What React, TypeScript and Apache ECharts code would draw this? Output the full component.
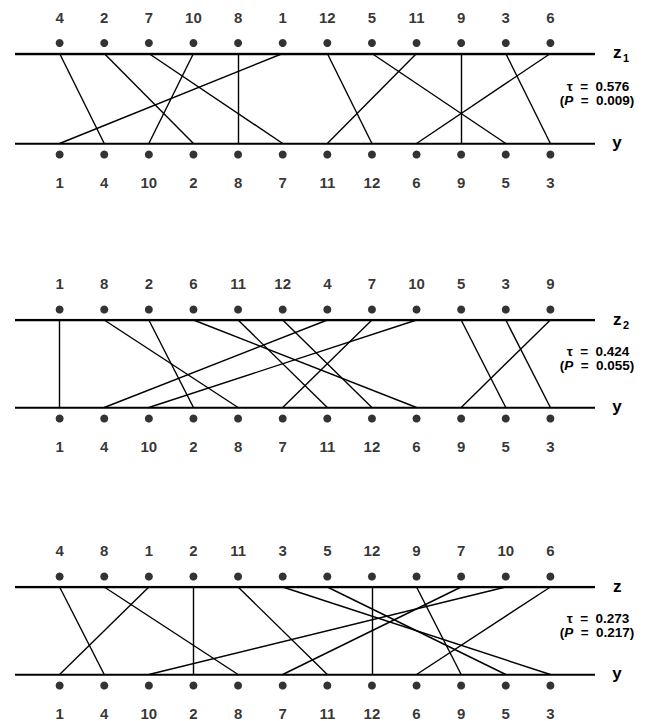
import React, { useEffect, useRef } from "react";
import * as echarts from "echarts";

// ---- Data ----
const bottomOrder = [1, 4, 10, 2, 8, 7, 11, 12, 6, 9, 5, 3];
const topOrderZ1 = [4, 2, 7, 10, 8, 1, 12, 5, 11, 9, 3, 6];
const topOrderZ2 = [1, 8, 2, 6, 11, 12, 4, 7, 10, 5, 3, 9];
const topOrderZ = [4, 8, 1, 2, 11, 3, 5, 12, 9, 7, 10, 6];
const topNames = ["z", "z", "z"];
const topSubs = ["1", "2", ""];
const bottomName = "y";
const tauValues = ["0.576", "0.424", "0.273"];
const pValues = ["0.009", "0.055", "0.217"];

// ---- Layout ----
const panelLines = [
  { top: 53.5, bottom: 143.5 },
  { top: 320, bottom: 407.5 },
  { top: 587, bottom: 674.5 },
];
const FONT = "Liberation Sans, Arial, Helvetica, sans-serif";

export default function App() {
  const ref = useRef<HTMLDivElement>(null);
  useEffect(() => {
    document.body.style.margin = "0";
    const chart = echarts.init(ref.current!, null, { renderer: "svg" });
    const tops = [topOrderZ1, topOrderZ2, topOrderZ];
    const grids: any[] = [];
    const xAxes: any[] = [];
    const yAxes: any[] = [];
    const series: any[] = [];
    const graphics: any[] = [];

    tops.forEach((topOrder, i) => {
      const L = panelLines[i];
      grids.push({ left: 15, right: 61, top: L.top, height: L.bottom - L.top });
      xAxes.push({ type: "value", gridIndex: i, min: 0, max: 13, show: false });
      yAxes.push({ type: "value", gridIndex: i, min: 0, max: 1, show: false });

      series.push({
        type: "lines",
        coordinateSystem: "cartesian2d",
        xAxisIndex: i,
        yAxisIndex: i,
        silent: true,
        lineStyle: { color: "#000", width: 2.4, opacity: 1 },
        data: [
          { coords: [[0, 1], [13, 1]] },
          { coords: [[0, 0], [13, 0]] },
        ],
      });
      series.push({
        type: "lines",
        coordinateSystem: "cartesian2d",
        xAxisIndex: i,
        yAxisIndex: i,
        silent: true,
        lineStyle: { color: "#000", width: 1.4, opacity: 1 },
        data: topOrder.map((v, k) => ({
          coords: [[k + 1, 1], [bottomOrder.indexOf(v) + 1, 0]],
        })),
      });
      const labelStyle = {
        show: true,
        position: "inside",
        color: "#000",
        fontFamily: FONT,
        fontWeight: "bold",
        fontSize: 15,
        formatter: (p: any) => String(p.value[2]),
      };
      // top dots
      series.push({
        type: "scatter",
        xAxisIndex: i,
        yAxisIndex: i,
        symbol: "circle",
        symbolSize: 8,
        symbolOffset: [0, -10.5],
        itemStyle: { color: "#000" },
        silent: true,
        data: topOrder.map((v, k) => [k + 1, 1, v]),
      });
      // top labels
      series.push({
        type: "scatter",
        xAxisIndex: i,
        yAxisIndex: i,
        symbolSize: 1,
        itemStyle: { color: "rgba(0,0,0,0)" },
        silent: true,
        label: { ...labelStyle, offset: [0, -36.5] },
        data: topOrder.map((v, k) => [k + 1, 1, v]),
      });
      // bottom dots
      series.push({
        type: "scatter",
        xAxisIndex: i,
        yAxisIndex: i,
        symbol: "circle",
        symbolSize: 8,
        symbolOffset: [0, 11],
        itemStyle: { color: "#000" },
        silent: true,
        data: bottomOrder.map((v, k) => [k + 1, 0, v]),
      });
      // bottom labels
      series.push({
        type: "scatter",
        xAxisIndex: i,
        yAxisIndex: i,
        symbolSize: 1,
        itemStyle: { color: "rgba(0,0,0,0)" },
        silent: true,
        label: { ...labelStyle, offset: [0, 39] },
        data: bottomOrder.map((v, k) => [k + 1, 0, v]),
      });

      // right side texts
      graphics.push({
        type: "text",
        x: 613,
        y: L.top - 1,
        style: {
          text: topNames[i],
          font: `bold 17px ${FONT}`,
          fill: "#000",
          verticalAlign: "middle",
          align: "left",
        },
      });
      if (topSubs[i]) {
        graphics.push({
          type: "text",
          x: 623,
          y: L.top + 4.5,
          style: {
            text: topSubs[i],
            font: `bold 11px ${FONT}`,
            fill: "#000",
            verticalAlign: "middle",
            align: "left",
          },
        });
      }
      graphics.push({
        type: "text",
        x: 617,
        y: L.bottom - 1,
        style: {
          text: bottomName,
          font: `bold 17px ${FONT}`,
          fill: "#000",
          verticalAlign: "middle",
          align: "center",
        },
      });
      const mid = (L.top + L.bottom) / 2;
      graphics.push({
        type: "text",
        x: 598,
        y: mid - 12.5,
        style: {
          text: `τ  =  ${tauValues[i]}`,
          font: `bold 13.5px ${FONT}`,
          fill: "#000",
          verticalAlign: "middle",
          align: "center",
        },
      });
      graphics.push({
        type: "text",
        x: 597,
        y: mid + 1.5,
        style: {
          rich: {
            n: { font: `bold 13.5px ${FONT}`, fill: "#000" },
            i: { font: `italic bold 13.5px ${FONT}`, fill: "#000" },
          },
          text: `{n|(}{i|P}{n|  =  ${pValues[i]})}`,
          verticalAlign: "middle",
          align: "center",
        },
      });
    });

    chart.setOption({
      animation: false,
      backgroundColor: "#fff",
      grid: grids,
      xAxis: xAxes,
      yAxis: yAxes,
      series,
      graphic: graphics,
    });
    return () => chart.dispose();
  }, []);
  return <div ref={ref} style={{ width: 656, height: 721 }} />;
}
